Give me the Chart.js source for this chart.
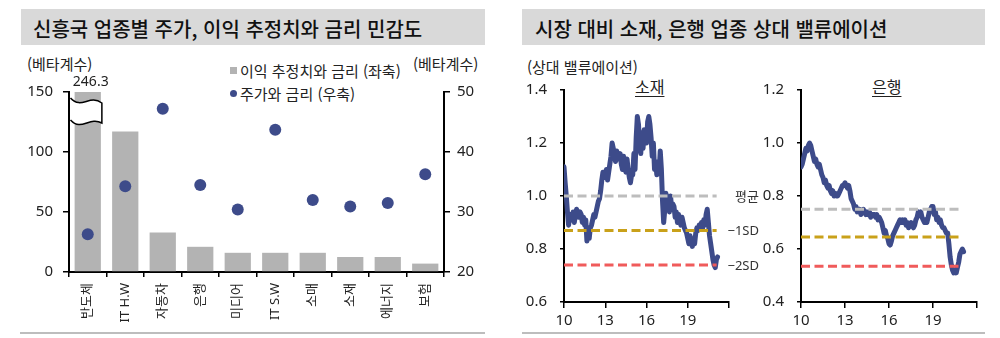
<!DOCTYPE html>
<html lang="ko">
<head>
<meta charset="utf-8">
<title>신흥국 업종별 민감도 / 상대 밸류에이션</title>
<script src="https://cdn.jsdelivr.net/npm/chart.js"></script>
<style>
    body { margin: 0; background: #fff; }
    #wrap { position: relative; width: 1000px; height: 338px; overflow: hidden; font-family: 'Noto Sans CJK KR', 'Noto Sans', sans-serif; color: #222; }
    .box { position: absolute; top: 9px; height: 36px; background: #d9d9d9; }
    .t { position: absolute; white-space: nowrap; line-height: 1; }
    .title { font-size: 20px; font-weight: 500; color: #111; top: 19px; }
    .rule { position: absolute; top: 332px; height: 2px; background: #bdbdbd; }
    canvas { position: absolute; top: 0; }
</style>
</head>
<body>
<div id="wrap">
    <div class="box" style="left:21px; width:464px;"></div>
    <div class="box" style="left:522px; width:463px;"></div>
    <div class="t title" style="left:33px;">신흥국 업종별 주가, 이익 추정치와 금리 민감도</div>
    <div class="t title" style="left:535px;">시장 대비 소재, 은행 업종 상대 밸류에이션</div>

    <div class="t" style="left:27px; top:56px; font-size:15px;">(베타계수)</div>
    <div class="t" style="left:413px; top:56px; font-size:15px;">(베타계수)</div>
    <div style="position:absolute; left:230px; top:67px; width:7px; height:7px; background:#b3b3b3;"></div>
    <div class="t" style="left:240px; top:63px; font-size:15px;">이익 추정치와 금리 (좌축)</div>
    <div style="position:absolute; left:230px; top:90px; width:7px; height:7px; border-radius:50%; background:#3d4b8a;"></div>
    <div class="t" style="left:240px; top:86px; font-size:15px;">주가와 금리 (우축)</div>

    <div class="t" style="left:527px; top:59px; font-size:15px;">(상대 밸류에이션)</div>
    <div class="t" style="left:635px; top:78px; font-size:16px; text-decoration:underline; text-underline-offset:3px;">소재</div>
    <div class="t" style="left:872px; top:78px; font-size:16px; text-decoration:underline; text-underline-offset:3px;">은행</div>

    <canvas id="sectorChart" width="500" height="338" style="left:0;"></canvas>
    <canvas id="matChart" width="262" height="338" style="left:500px;"></canvas>
    <canvas id="bankChart" width="240" height="338" style="left:760px;"></canvas>

    <div class="rule" style="left:20px; width:465px;"></div>
    <div class="rule" style="left:522px; width:463px;"></div>
</div>

<script>
// DATA
var sectors      = ['반도체', 'IT H.W', '자동차', '은행', '미디어', 'IT S.W', '소매', '소재', '에너지', '보험'];
var earningsBeta = [246.3, 117, 33, 21, 16, 16, 16, 12.5, 12.5, 7];
var priceBeta    = [26.3, 34.3, 47.2, 34.5, 30.4, 43.7, 32.0, 30.9, 31.5, 36.3];

// monthly, starting Jan 2010
var startYear = 10;
var materialsRel = [
    1.11, 1.05, 1.00, 0.94, 0.89, 0.92, 0.93, 0.91, 0.94, 0.90, 0.93, 0.95,
    0.93, 0.92, 0.94, 0.93, 0.90, 0.92, 0.89, 0.91, 0.83, 0.86, 0.84, 0.88,
    0.89, 0.91, 0.93, 0.92, 0.94, 0.96, 0.98, 0.99, 1.02, 1.06, 1.09, 1.07,
    1.08, 1.10, 1.06, 1.09, 1.12, 1.15, 1.20, 1.18, 1.16, 1.13, 1.17, 1.15,
    1.14, 1.16, 1.12, 1.10, 1.15, 1.12, 1.09, 1.14, 1.10, 1.07, 1.05, 1.08,
    1.08, 1.16, 1.10, 1.22, 1.30, 1.27, 1.20, 1.16, 1.24, 1.18, 1.25, 1.20,
    1.20, 1.28, 1.30, 1.27, 1.22, 1.15, 1.20, 1.10, 1.13, 1.08, 1.11, 1.09,
    1.17, 1.10, 0.98, 0.90, 0.95, 1.01, 0.96, 0.99, 0.94, 1.00, 0.95, 0.97,
    0.96, 0.92, 0.94, 0.90, 0.93, 0.91, 0.89, 0.92, 0.90, 0.88, 0.87, 0.86,
    0.84, 0.82, 0.85, 0.83, 0.81, 0.84, 0.82, 0.86, 0.88, 0.87, 0.89, 0.88,
    0.90, 0.88, 0.91, 0.89, 0.93, 0.95, 0.90, 0.85, 0.82, 0.79, 0.76, 0.74,
    0.73, 0.76, 0.77
];
var banksRel = [
    0.91, 0.92, 0.94, 0.96, 0.98, 0.97, 0.99, 1.00, 0.99, 0.97, 0.95, 0.93,
    0.94, 0.92, 0.91, 0.92, 0.90, 0.88, 0.87, 0.85, 0.86, 0.84, 0.83, 0.84,
    0.82, 0.81, 0.82, 0.80, 0.81, 0.80, 0.80, 0.81, 0.82, 0.83, 0.84, 0.84,
    0.85, 0.84, 0.83, 0.84, 0.82, 0.79, 0.78, 0.77, 0.75, 0.76, 0.74, 0.75,
    0.75, 0.73, 0.74, 0.75, 0.74, 0.73, 0.74, 0.73, 0.74, 0.72, 0.73, 0.73,
    0.73, 0.72, 0.73, 0.71, 0.72, 0.71, 0.70, 0.68, 0.66, 0.67, 0.65, 0.64,
    0.62, 0.615, 0.63, 0.65, 0.66, 0.67, 0.68, 0.69, 0.70, 0.71, 0.70, 0.71,
    0.70, 0.71, 0.69, 0.70, 0.68, 0.69, 0.70, 0.69, 0.68, 0.69, 0.71, 0.72,
    0.74, 0.73, 0.74, 0.72, 0.71, 0.70, 0.71, 0.70, 0.72, 0.74, 0.75, 0.76,
    0.76, 0.73, 0.74, 0.71, 0.72, 0.70, 0.71, 0.69, 0.68, 0.68, 0.67, 0.66,
    0.66, 0.62, 0.57, 0.54, 0.52, 0.51, 0.52, 0.51, 0.53, 0.55, 0.58, 0.59,
    0.60, 0.59
];
// mean, -1SD, -2SD
var materialsBands = [1.00, 0.87, 0.74];
var banksBands     = [0.75, 0.645, 0.535];
var bandLabels     = ['평균', '\u22121SD', '\u22122SD'];
var bandEnd        = { mat: 21.1, bank: 20.8 };
var yearTicks      = [10, 13, 16, 19];

var navy = '#3d4b8a';
var bandColors = ['#bdbdbd', '#c9a11a', '#f05b5b'];

Chart.defaults.font.family = "'Noto Sans', 'Noto Sans CJK KR', sans-serif";
Chart.defaults.color = '#222';

// BROKEN BAR MARKER + VALUE LABEL
var breakMarker = {
    id: 'breakMarker',
    afterDatasetsDraw: function(chart) {
        var ctx  = chart.ctx;
        var area = chart.chartArea;
        var bar  = chart.getDatasetMeta(1).data[0];
        var xL = area.left + 1.5;
        var xR = bar.x + bar.width / 2 + 1;
        var w  = xR - xL;
        var yT = area.top + 6;
        var yB = area.top + 28;

        ctx.save();
        ctx.beginPath();
        ctx.moveTo(xL, yT);
        ctx.bezierCurveTo(xL + w * 0.35, yT + 12, xL + w * 0.6, yT - 4, xR, yT + 5);
        ctx.lineTo(xR, yB + 3);
        ctx.bezierCurveTo(xL + w * 0.6, yB - 4, xL + w * 0.35, yB + 12, xL, yB);
        ctx.closePath();
        ctx.fillStyle = '#fff';
        ctx.fill();

        ctx.beginPath();
        ctx.moveTo(xL, yT);
        ctx.bezierCurveTo(xL + w * 0.35, yT + 12, xL + w * 0.6, yT - 4, xR, yT + 5);
        ctx.lineTo(xR, yB + 3);
        ctx.bezierCurveTo(xL + w * 0.6, yB - 4, xL + w * 0.35, yB + 12, xL, yB);
        ctx.strokeStyle = '#000';
        ctx.lineWidth = 1.5;
        ctx.stroke();

        ctx.fillStyle = '#222';
        ctx.font = "14px 'Noto Sans'";
        ctx.textAlign = 'center';
        ctx.textBaseline = 'alphabetic';
        ctx.fillText(earningsBeta[0].toFixed(1), bar.x + 3, area.top - 6);
        ctx.restore();
    }
};

// LEFT: BAR + DOTS
new Chart(document.getElementById('sectorChart'), {
    type: 'bar',
    data: {
        labels: sectors,
        datasets: [
            {
                type: 'line',
                label: '주가와 금리 (우축)',
                data: priceBeta,
                yAxisID: 'y1',
                showLine: false,
                pointRadius: 6,
                pointBorderWidth: 0,
                pointBackgroundColor: navy,
                order: 0
            },
            {
                label: '이익 추정치와 금리 (좌축)',
                data: earningsBeta,
                yAxisID: 'y',
                backgroundColor: '#b3b3b3',
                barPercentage: 0.7,
                categoryPercentage: 1,
                order: 1
            }
        ]
    },
    options: {
        responsive: false,
        animation: false,
        layout: { padding: { top: 92, left: 0, right: 0, bottom: 0 } },
        plugins: { legend: { display: false }, tooltip: { enabled: false } },
        scales: {
            x: {
                grid: { drawOnChartArea: false, tickLength: 5, color: '#000', lineWidth: 1.5 },
                border: { color: '#000', width: 2 },
                ticks: { minRotation: 90, maxRotation: 90, padding: 6, font: { size: 13 } },
                afterFit: function(s) { s.height = 66; }
            },
            y: {
                position: 'left',
                min: 0, max: 150,
                grid: { drawOnChartArea: false, tickLength: 6, color: '#000', lineWidth: 1.5 },
                border: { color: '#000', width: 2 },
                ticks: { stepSize: 50, padding: 10, font: { size: 15 } },
                afterFit: function(s) { s.width = 69; }
            },
            y1: {
                position: 'right',
                min: 20, max: 50,
                grid: { drawOnChartArea: false, tickLength: 6, color: '#000', lineWidth: 1.5 },
                border: { color: '#000', width: 2 },
                ticks: { stepSize: 10, padding: 7, font: { size: 15 } },
                afterFit: function(s) { s.width = 56; }
            }
        }
    },
    plugins: [breakMarker]
});

// BAND LABELS (평균, -1SD, -2SD)
var bandText = {
    id: 'bandText',
    afterDraw: function(chart) {
        var ctx = chart.ctx;
        var y   = chart.scales.y;
        ctx.save();
        ctx.fillStyle = '#333';
        ctx.font = "13px 'Noto Sans', 'Noto Sans CJK KR'";
        ctx.textAlign = 'right';
        ctx.textBaseline = 'middle';
        materialsBands.forEach(function(v, i) {
            ctx.fillText(bandLabels[i], chart.chartArea.right + 30, y.getPixelForValue(v) + 1);
        });
        ctx.restore();
    }
};

function toPoints(arr) {
    return arr.map(function(v, i) { return { x: startYear + i / 12, y: v }; });
}

function bandSets(bands, end) {
    return bands.map(function(v, i) {
        return {
            data: [{ x: startYear, y: v }, { x: end, y: v }],
            borderColor: bandColors[i],
            borderWidth: 3,
            borderDash: [9, 4.5],
            pointRadius: 0
        };
    });
}

function relOptions(yMin, yMax, leftW, rightPad) {
    return {
        responsive: false,
        animation: false,
        layout: { padding: { top: 90, left: 0, right: rightPad, bottom: 0 } },
        plugins: { legend: { display: false }, tooltip: { enabled: false } },
        scales: {
            x: {
                type: 'linear',
                min: 10, max: 22,
                grid: { drawOnChartArea: false, tickLength: 6, color: '#000', lineWidth: 1.5 },
                border: { color: '#000', width: 2 },
                ticks: {
                    stepSize: 3, padding: 4, maxRotation: 0, font: { size: 15 },
                    callback: function(v) { return yearTicks.indexOf(v) >= 0 ? String(v) : ''; }
                },
                afterFit: function(s) { s.height = 36; }
            },
            y: {
                min: yMin, max: yMax,
                grid: { drawOnChartArea: false, tickLength: 4, color: '#000', lineWidth: 1.5 },
                border: { color: '#000', width: 2 },
                ticks: {
                    stepSize: 0.2, padding: 13, font: { size: 15 },
                    callback: function(v) { return v.toFixed(1); }
                },
                afterFit: function(s) { s.width = leftW; }
            }
        }
    };
}

function relLine(arr) {
    return {
        data: toPoints(arr),
        borderColor: navy,
        borderWidth: 5,
        borderJoinStyle: 'round',
        borderCapStyle: 'round',
        pointRadius: 0,
        tension: 0
    };
}

// MIDDLE: 소재
new Chart(document.getElementById('matChart'), {
    type: 'line',
    data: { datasets: bandSets(materialsBands, bandEnd.mat).concat([relLine(materialsRel)]) },
    options: relOptions(0.6, 1.4, 64, 33),
    plugins: [bandText]
});

// RIGHT: 은행
new Chart(document.getElementById('bankChart'), {
    type: 'line',
    data: { datasets: bandSets(banksBands, bandEnd.bank).concat([relLine(banksRel)]) },
    options: relOptions(0.4, 1.2, 41, 23)
});
</script>
</body>
</html>
